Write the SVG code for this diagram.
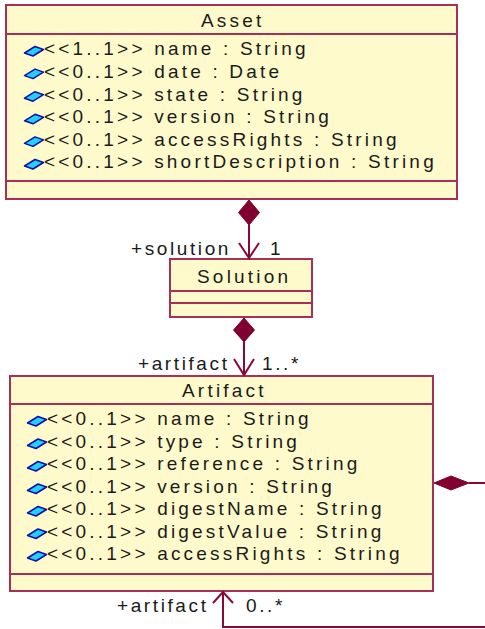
<svg xmlns="http://www.w3.org/2000/svg" width="485" height="629" viewBox="0 0 485 629">
<style>
.box{fill:#FFFACB;stroke:#A83058;stroke-width:2}
.sep{stroke:#A83058;stroke-width:2}
.t{font-family:"Liberation Sans",Arial,sans-serif;font-size:19px;letter-spacing:3.2px;fill:#1a1a1a}
.lb{letter-spacing:2.6px}
.ic{fill:#22D0FF;stroke:#1010A0;stroke-width:1.5;stroke-linejoin:round}
.ln{fill:none;stroke:#8A0838;stroke-width:2}
.dm{fill:#800030;stroke:#800030;stroke-width:1}
</style>
<defs>
<polygon id="icon" class="ic" points="0.5,7 11,0.5 19.5,3.5 9,10"/>
</defs>
<rect width="485" height="629" fill="#ffffff"/>
<g id="Asset">
<rect class="box" x="6" y="5" width="451" height="194"/>
<line class="sep" x1="6" y1="34" x2="457" y2="34"/>
<line class="sep" x1="6" y1="181" x2="457" y2="181"/>
<text class="t" x="201" y="27">Asset</text>
<use href="#icon" x="24" y="46"/><text class="t" x="44" y="55.3">&lt;&lt;1..1&gt;&gt; name : String</text>
<use href="#icon" x="24" y="68.6"/><text class="t" x="44" y="77.9">&lt;&lt;0..1&gt;&gt; date : Date</text>
<use href="#icon" x="24" y="91.2"/><text class="t" x="44" y="100.5">&lt;&lt;0..1&gt;&gt; state : String</text>
<use href="#icon" x="24" y="113.8"/><text class="t" x="44" y="123.1">&lt;&lt;0..1&gt;&gt; version : String</text>
<use href="#icon" x="24" y="136.4"/><text class="t" x="44" y="145.7">&lt;&lt;0..1&gt;&gt; accessRights : String</text>
<use href="#icon" x="24" y="159"/><text class="t" x="44" y="168.3">&lt;&lt;0..1&gt;&gt; shortDescription : String</text>
</g>
<g id="Solution">
<rect class="box" x="170" y="259" width="142" height="58"/>
<line class="sep" x1="170" y1="291" x2="312" y2="291"/>
<line class="sep" x1="170" y1="303" x2="312" y2="303"/>
<text class="t" x="197" y="283">Solution</text>
</g>
<g id="Artifact">
<rect class="box" x="10" y="376" width="423" height="215"/>
<line class="sep" x1="10" y1="404" x2="433" y2="404"/>
<line class="sep" x1="10" y1="574" x2="433" y2="574"/>
<text class="t" x="182" y="397">Artifact</text>
<use href="#icon" x="27" y="416"/><text class="t" x="47" y="425">&lt;&lt;0..1&gt;&gt; name : String</text>
<use href="#icon" x="27" y="438.5"/><text class="t" x="47" y="447.5">&lt;&lt;0..1&gt;&gt; type : String</text>
<use href="#icon" x="27" y="461"/><text class="t" x="47" y="470">&lt;&lt;0..1&gt;&gt; reference : String</text>
<use href="#icon" x="27" y="483.5"/><text class="t" x="47" y="492.5">&lt;&lt;0..1&gt;&gt; version : String</text>
<use href="#icon" x="27" y="506"/><text class="t" x="47" y="515">&lt;&lt;0..1&gt;&gt; digestName : String</text>
<use href="#icon" x="27" y="528.5"/><text class="t" x="47" y="537.5">&lt;&lt;0..1&gt;&gt; digestValue : String</text>
<use href="#icon" x="27" y="551"/><text class="t" x="47" y="560">&lt;&lt;0..1&gt;&gt; accessRights : String</text>
</g>
<g id="connectors">
<g id="asset-solution">
<line class="ln" x1="249" y1="225" x2="249" y2="259"/>
<polygon class="dm" points="249,200 238.5,212.5 249,225 259.5,212.5"/>
<polyline class="ln" points="239,243 249,258 259,243"/>
<text class="t lb" x="131" y="255">+solution</text>
<text class="t lb" x="270" y="255">1</text>
</g>
<g id="solution-artifact">
<line class="ln" x1="244" y1="342" x2="244" y2="376"/>
<polygon class="dm" points="244,318 233.5,330 244,342 254.5,330"/>
<polyline class="ln" points="234,359 244,375 254,359"/>
<text class="t lb" x="138" y="370">+artifact</text>
<text class="t lb" x="262" y="370">1..*</text>
</g>
<g id="artifact-self">
<polyline class="ln" points="469,483 500,483 500,627 223,627 223,592"/>
<polygon class="dm" points="434,483 451,476 469,483 451,490"/>
<polyline class="ln" points="213,603 223,592 233,603"/>
<text class="t lb" x="117" y="612">+artifact</text>
<text class="t lb" x="246" y="612">0..*</text>
</g>
</g>
</svg>
